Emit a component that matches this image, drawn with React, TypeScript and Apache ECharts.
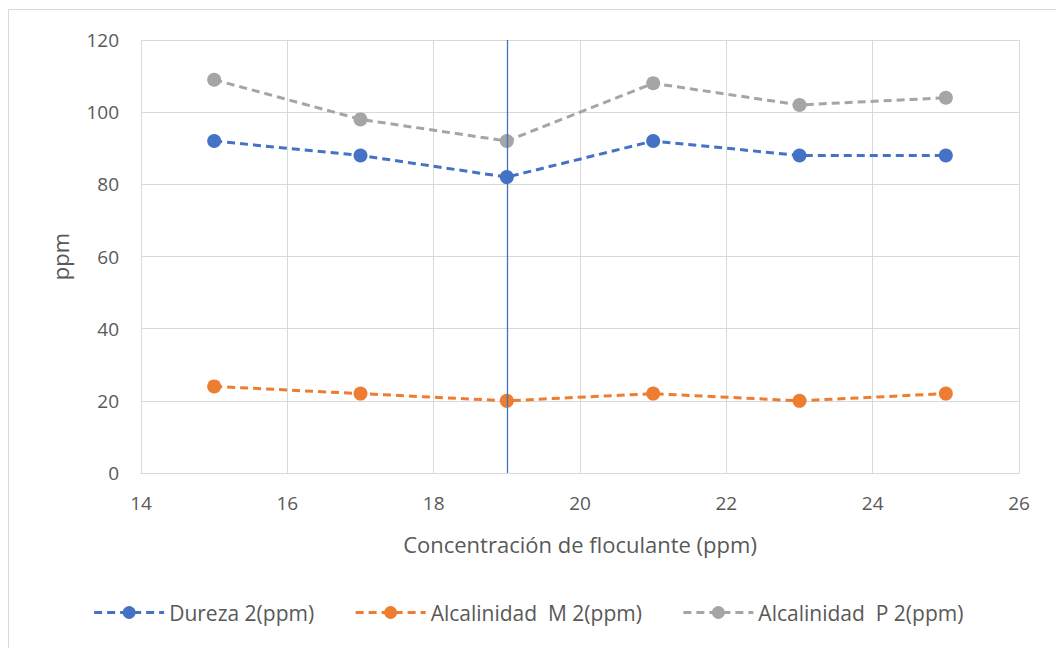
import React, { useEffect, useRef } from "react";
import * as echarts from "echarts";

const xValues = [15, 17, 19, 21, 23, 25];
const dureza = [92, 88, 82, 92, 88, 88];
const alcM = [24, 22, 20, 22, 20, 22];
const alcP = [109, 98, 92, 108, 102, 104];
const seriesNames = ["Dureza 2(ppm)", "Alcalinidad  M 2(ppm)", "Alcalinidad  P 2(ppm)"];
const colors = ["#4472C4", "#ED7D31", "#A5A5A5"];
const markX = 19;

const FONT = "Open Sans";

export default function App() {
  const ref = useRef<HTMLDivElement>(null);
  useEffect(() => {
    if (!ref.current) return;
    const chart = echarts.init(ref.current, undefined, { renderer: "svg" });
    const all = [dureza, alcM, alcP];
    const series: any[] = all.map((vals, i) => ({
      name: seriesNames[i],
      type: "line",
      data: xValues.map((x, j) => [x, vals[j]]),
      symbol: "circle",
      symbolSize: 14,
      showSymbol: true,
      color: colors[i],
      itemStyle: { color: colors[i] },
      lineStyle: { color: colors[i], width: 3, type: [8, 5] },
      z: 3,
    }));
    series.push({
      name: "vline",
      type: "line",
      data: [],
      color: "#4472C4",
      z: 10,
      markLine: {
        silent: true,
        symbol: "none",
        label: { show: false },
        lineStyle: { color: "#4472C4", width: 1.3, type: "solid", opacity: 1 },
        data: [{ xAxis: markX }],
      },
    });
    chart.setOption({
      animation: false,
      backgroundColor: "#ffffff",
      textStyle: { fontFamily: FONT },
      grid: { left: 141, right: 37, top: 40, bottom: 175 },
      xAxis: {
        type: "value",
        min: 14,
        max: 26,
        interval: 2,
        name: "Concentración de floculante (ppm)",
        nameLocation: "middle",
        nameGap: 60,
        nameTextStyle: { color: "#595959", fontSize: 22, fontFamily: FONT },
        axisLine: { show: true, lineStyle: { color: "#d9d9d9" } },
        axisTick: { show: false },
        axisLabel: { color: "#595959", fontSize: 19, margin: 20, fontFamily: FONT },
        splitLine: { show: true, lineStyle: { color: "#d9d9d9", width: 1 } },
      },
      yAxis: {
        type: "value",
        min: 0,
        max: 120,
        interval: 20,
        name: "ppm",
        nameLocation: "middle",
        nameGap: 70,
        nameRotate: 90,
        nameTextStyle: { color: "#595959", fontSize: 22, fontFamily: FONT },
        axisLine: { show: true, lineStyle: { color: "#d9d9d9" } },
        axisTick: { show: false },
        axisLabel: { color: "#595959", fontSize: 19, margin: 22, fontFamily: FONT },
        splitLine: { show: true, lineStyle: { color: "#d9d9d9", width: 1 } },
      },
      legend: {
        data: seriesNames,
        bottom: 20,
        left: "center",
        itemWidth: 70,
        itemHeight: 16,
        itemGap: 40,
        lineStyle: { width: 3 },
        textStyle: { color: "#595959", fontSize: 21, fontFamily: FONT },
      },
      graphic: [
        {
          type: "rect",
          shape: { x: 8.5, y: 9.5, width: 1200, height: 800 },
          style: { fill: "none", stroke: "#d9d9d9", lineWidth: 1 },
          silent: true,
          z: -1,
        },
      ],
      series,
    });
    return () => chart.dispose();
  }, []);
  return <div ref={ref} style={{ width: 1056, height: 648, position: "absolute", left: 0, top: 0 }} />;
}
